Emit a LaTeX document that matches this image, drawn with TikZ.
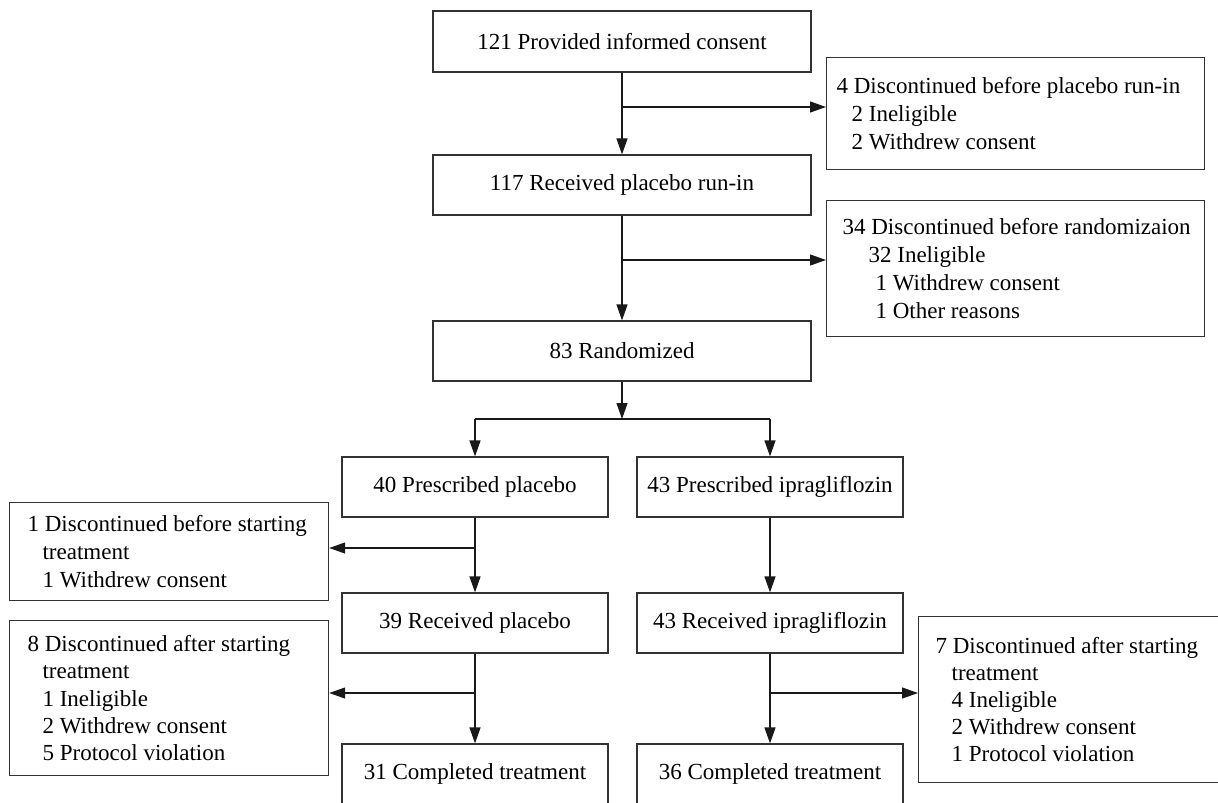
\documentclass[tikz,border=0pt]{standalone}
\usepackage{fontspec}
\setmainfont{Liberation Serif}
\usetikzlibrary{arrows.meta}
\begin{document}
\begin{tikzpicture}[x=1pt,y=-1pt,
  font=\fontsize{11.5pt}{14pt}\selectfont,
  box/.style={draw=black!80, line width=0.6pt, inner sep=0pt, align=center},
  side/.style={draw=black!80, line width=0.6pt, anchor=north west, align=flush left, inner ysep=0pt},
  arr/.style={draw=black!90, line width=0.6pt, -{Triangle[length=8pt,width=5.5pt]}},
  ln/.style={draw=black!90, line width=0.6pt}]
\useasboundingbox (0,0) rectangle (609,401);
\clip (0,0) rectangle (609,401);

% main column
\node[box, minimum width=189pt, minimum height=30.5pt] (n1) at (311,20.75) {121 Provided informed consent};
\node[box, minimum width=189pt, minimum height=30pt] (n2) at (311,92.5) {117 Received placebo run-in};
\node[box, minimum width=189pt, minimum height=30pt] (n3) at (311,175.5) {83 Randomized};
\node[box, minimum width=133pt, minimum height=30pt] (n4) at (237.5,243.5) {40 Prescribed placebo};
\node[box, minimum width=133pt, minimum height=30pt] (n5) at (385,243.5) {43 Prescribed ipragliflozin};
\node[box, minimum width=133pt, minimum height=30pt] (n6) at (237.5,311.5) {39 Received placebo};
\node[box, minimum width=133pt, minimum height=30pt] (n7) at (385,311.5) {43 Received ipragliflozin};
\node[box, minimum width=133pt, minimum height=30pt] (n8) at (237.5,387) {31 Completed treatment};
\node[box, minimum width=133pt, minimum height=30pt] (n9) at (385,387) {36 Completed treatment};

% side boxes
\node[side, inner xsep=5pt, text width=179pt, minimum height=56pt] (d1) at (413,28.5)
  {\mbox{4 Discontinued before placebo run-in}\\
   \hspace*{7.5pt}2 Ineligible\\
   \hspace*{7.5pt}2 Withdrew consent};
\node[side, inner xsep=8pt, text width=173pt, minimum height=68pt] (d2) at (413,100)
  {\mbox{34 Discontinued before randomizaion}\\
   \hspace*{13pt}32 Ineligible\\
   \hspace*{16.5pt}1 Withdrew consent\\
   \hspace*{16.5pt}1 Other reasons};
\node[side, inner xsep=9pt, text width=141.5pt, minimum height=49pt] (d3) at (4.5,251)
  {\mbox{1 Discontinued before starting}\\
   \hspace*{7.5pt}treatment\\
   \hspace*{7.5pt}1 Withdrew consent};
\node[side, inner xsep=9pt, text width=141.5pt, minimum height=77.5pt,
      font=\fontsize{11.5pt}{13.6pt}\selectfont] (d4) at (4.5,310)
  {\mbox{8 Discontinued after starting}\\
   \hspace*{7.5pt}treatment\\
   \hspace*{7.5pt}1 Ineligible\\
   \hspace*{7.5pt}2 Withdrew consent\\
   \hspace*{7.5pt}5 Protocol violation};
\node[side, inner xsep=8.5pt, text width=144pt, minimum height=83pt,
      font=\fontsize{11.5pt}{13.6pt}\selectfont] (d5) at (459,308)
  {\mbox{7 Discontinued after starting}\\
   \hspace*{8pt}treatment\\
   \hspace*{8pt}4 Ineligible\\
   \hspace*{8pt}2 Withdrew consent\\
   \hspace*{8pt}1 Protocol violation};

% connectors
\draw[arr] (n1) -- (n2);
\coordinate (b1) at (311,53.5);
\draw[arr] (b1) -- (b1 -| d1.west);
\draw[arr] (n2) -- (n3);
\coordinate (b2) at (311,130);
\draw[arr] (b2) -- (b2 -| d2.west);
\coordinate (j) at (311,209.5);
\draw[arr] (n3) -- (j);
\draw[ln] (n4.north |- j) -- (n5.north |- j);
\draw[arr] (n4.north |- j) -- (n4.north);
\draw[arr] (n5.north |- j) -- (n5.north);
\draw[arr] (n4) -- (n6);
\coordinate (b3) at (237.5,274);
\draw[arr] (b3) -- (b3 -| d3.east);
\draw[arr] (n5) -- (n7);
\draw[arr] (n6) -- (n8);
\coordinate (b4) at (237.5,346.5);
\draw[arr] (b4) -- (b4 -| d4.east);
\draw[arr] (n7) -- (n9);
\coordinate (b5) at (385,346.5);
\draw[arr] (b5) -- (b5 -| d5.west);
\end{tikzpicture}
\end{document}
